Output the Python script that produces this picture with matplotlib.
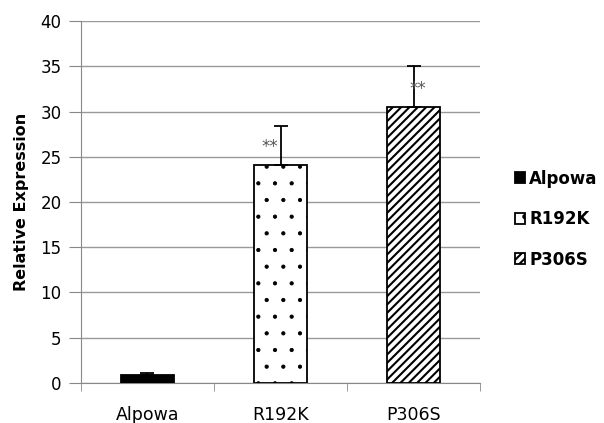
import matplotlib
matplotlib.use("Agg")
import matplotlib.pyplot as plt
import numpy as np

categories = ["Alpowa", "R192K", "P306S"]
values = [0.9, 24.1, 30.5]
errors = [0.15, 4.3, 4.5]
sig_labels = ["", "**", "**"]
sig_dx = [0.0, -0.08, 0.03]

plt.rcParams['font.family'] = ['DejaVu Sans']

fig = plt.figure(figsize=(6.04, 4.23), dpi=100)
ax = fig.add_axes([0.134, 0.095, 0.661, 0.855])

x = np.arange(len(categories))
fills = ['black', 'white', 'white']
hatches = [None, '.', '////']
hatch_lws = [1.0, 0.6, 1.5]
bars = []
for i in range(len(categories)):
    plt.rcParams['hatch.linewidth'] = hatch_lws[i]
    b = ax.bar(x[i], values[i], width=0.4, color=fills[i], edgecolor='black',
               linewidth=1.3, hatch=hatches[i], label=categories[i], zorder=3)
    for p in b:
        if hasattr(p, 'set_hatch_linewidth'):
            p.set_hatch_linewidth(hatch_lws[i])
    bars.append(b)
    ax.errorbar(x[i], values[i], yerr=[[0], [errors[i]]], fmt='none',
                ecolor='black', elinewidth=1.3, capsize=5, capthick=1.3, zorder=4)
    if sig_labels[i]:
        ax.text(x[i] + sig_dx[i], values[i] + 1.0, sig_labels[i], ha='center',
                va='bottom', fontsize=12, color='#555555', zorder=5)

ax.set_xlim(-0.5, 2.5)
ax.set_ylim(0, 40)
ax.set_yticks(np.arange(0, 41, 5))
ax.set_xticks(x)
ax.set_xticklabels(categories)
ax.set_xticks([-0.5, 0.5, 1.5, 2.5], minor=True)
ax.tick_params(axis='x', which='major', length=0, pad=17, labelsize=12.5)
ax.tick_params(axis='x', which='minor', length=6, color='#888888', direction='out')
ax.tick_params(axis='y', length=9, color='#888888', direction='out', labelsize=12, pad=5)
ax.yaxis.grid(True, color='#999999', linewidth=1.0, zorder=0)
ax.set_axisbelow(True)
for s in ['top', 'right']:
    ax.spines[s].set_visible(False)
for s in ['left', 'bottom']:
    ax.spines[s].set_color('#888888')
ax.set_ylabel("Relative Expression", fontsize=11.5, fontweight='bold', labelpad=8)

leg = fig.legend(handles=[b[0] for b in bars], labels=categories,
                 loc='center left', bbox_to_anchor=(0.828, 0.482), frameon=False,
                 handlelength=0.6, handleheight=0.6, handletextpad=0.25,
                 labelspacing=1.35, prop={'size': 12, 'weight': 'bold'})

fig.savefig("out.png", dpi=100)
